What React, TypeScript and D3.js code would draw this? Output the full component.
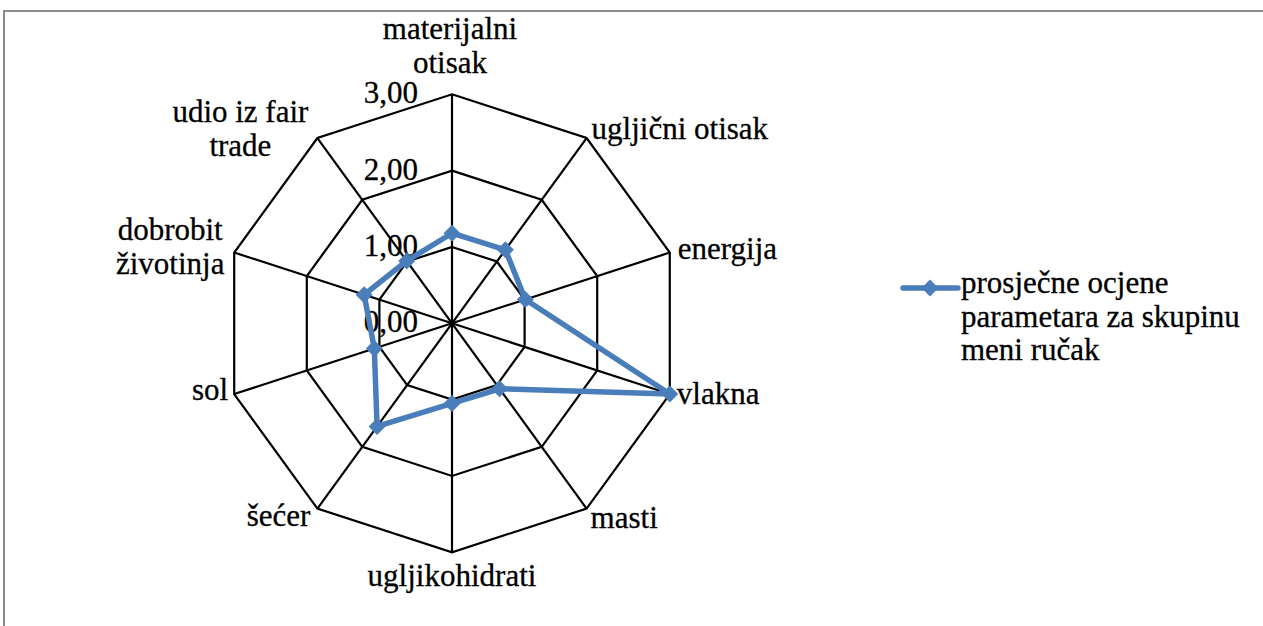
import React from "react";
import * as d3 from "d3";

const categories = [
  "materijalni\notisak",
  "ugljični otisak",
  "energija",
  "vlakna",
  "masti",
  "ugljikohidrati",
  "šećer",
  "sol",
  "dobrobit\nživotinja",
  "udio iz fair\ntrade",
];
const values = [1.18, 1.19, 1.01, 3.0, 1.06, 1.05, 1.67, 1.07, 1.21, 1.01];
const tickValues = [0, 1, 2, 3];
const tickLabels = ["0,00", "1,00", "2,00", "3,00"];
const seriesName = ["prosječne ocjene", "parametara za skupinu", "meni ručak"];

const W = 1263;
const H = 626;
const cx = 452;
const cy = 323.3;
const R = 229;
const FS = 31;
const LH = 34;
const BLUE = "#4a7ebb";
const textStyle: React.CSSProperties = { fontFamily: '"Liberation Serif"', fontSize: FS };

// label layout relative to vertex: dx, dy of last baseline, anchor
const labelLayout: [number, number, "start" | "middle" | "end"][] = [
  [-2, -21, "middle"],
  [5, 1, "start"],
  [8, 6, "start"],
  [7, 10, "start"],
  [4, 19, "start"],
  [0, 34, "middle"],
  [-7, 17, "end"],
  [-6, 6, "end"],
  [-64, 21, "middle"],
  [-77, 18, "middle"],
];

const diamond = (h: number) => `M0,${-h}L${h},0L0,${h}L${-h},0Z`;

export default function App() {
  const n = categories.length;
  const r = d3.scaleLinear().domain([0, 3]).range([0, R]);
  const angle = (i: number) => (i * 2 * Math.PI) / n;
  const pt = (i: number, v: number): [number, number] => [
    cx + r(v) * Math.sin(angle(i)),
    cy - r(v) * Math.cos(angle(i)),
  ];
  const ring = (v: number) =>
    d3.line()(d3.range(n).map((i) => pt(i, v))) + "Z";
  const seriesPath = d3.line()(values.map((v, i) => pt(i, v))) + "Z";

  return (
    <svg width={W} height={H} style={{ position: "absolute", left: 0, top: 0, background: "#fff" }}>
      <rect x={0} y={0} width={W} height={H} fill="#fff" />
      <path d={`M4,${H}V11H${W}`} fill="none" stroke="#8c8c8c" strokeWidth={2} />

      {/* grid rings */}
      {tickValues.filter((t) => t > 0).map((t) => (
        <path key={t} d={ring(t)} fill="none" stroke="#000" strokeWidth={2.2} />
      ))}
      {/* spokes */}
      {d3.range(n).map((i) => {
        const [x, y] = pt(i, 3);
        return <line key={i} x1={cx} y1={cy} x2={x} y2={y} stroke="#000" strokeWidth={2.2} />;
      })}

      {/* tick labels */}
      {tickValues.map((t, k) => (
        <text key={t} x={418} y={cy - r(t) + 9} textAnchor="end" fill="#000" stroke="#000" strokeWidth={0.3} style={textStyle}>
          {tickLabels[k]}
        </text>
      ))}

      {/* category labels */}
      {categories.map((c, i) => {
        const [vx, vy] = pt(i, 3);
        const [dx, dy, anchor] = labelLayout[i];
        const lines = c.split("\n");
        const lastY = vy + dy;
        return (
          <text key={c} textAnchor={anchor} fill="#000" stroke="#000" strokeWidth={0.3} style={textStyle}>
            {lines.map((l, j) => (
              <tspan key={j} x={vx + dx} y={lastY - (lines.length - 1 - j) * LH}>
                {l}
              </tspan>
            ))}
          </text>
        );
      })}

      {/* series */}
      <path d={seriesPath} fill="none" stroke={BLUE} strokeWidth={5.5} strokeLinejoin="round" />
      {values.map((v, i) => {
        const [x, y] = pt(i, v);
        return <path key={i} d={diamond(8.5)} transform={`translate(${x},${y})`} fill={BLUE} />;
      })}

      {/* legend */}
      <line x1={903} x2={958} y1={288} y2={288} stroke={BLUE} strokeWidth={5.5} strokeLinecap="round" />
      <path d={diamond(8.5)} transform="translate(930,288)" fill={BLUE} />
      <text fill="#000" stroke="#000" strokeWidth={0.3} style={textStyle}>
        {seriesName.map((s, j) => (
          <tspan key={j} x={961} y={293 + j * 33.5}>
            {s}
          </tspan>
        ))}
      </text>
    </svg>
  );
}
